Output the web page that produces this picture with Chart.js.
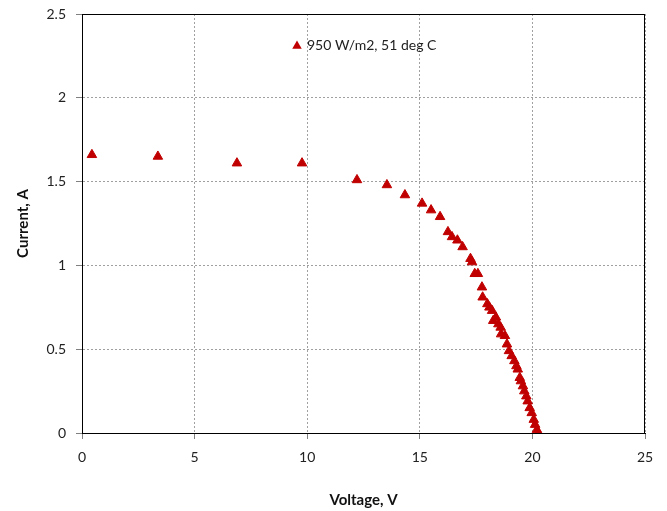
<!DOCTYPE html>
<html>
<head>
<meta charset="utf-8">
<script src="https://cdn.jsdelivr.net/npm/chart.js@4/dist/chart.umd.min.js"></script>
<style>
  html, body { margin: 0; padding: 0; background: #fff; }
  #wrap { width: 667px; height: 511px; }
</style>
</head>
<body>
<div id="wrap"><canvas id="c" width="667" height="511"></canvas></div>
<script>
const seriesLabel = "950 W/m2, 51 deg C";
const voltage = [0.44, 3.37, 6.88, 9.77, 12.21, 13.54, 14.34, 15.10, 15.50, 15.90,
  16.25, 16.43, 16.67, 16.90, 17.25, 17.32, 17.44, 17.58, 17.76, 17.79,
  18.00, 18.09, 18.21, 18.38, 18.26, 18.49, 18.59, 18.61, 18.78, 18.87,
  18.96, 19.08, 19.20, 19.29, 19.35, 19.44, 19.49, 19.58, 19.64, 19.73,
  19.79, 19.88, 19.97, 20.06, 20.12, 20.20, 20.26];
const current = [1.66, 1.65, 1.61, 1.61, 1.51, 1.48, 1.42, 1.37, 1.33, 1.29,
  1.20, 1.17, 1.15, 1.11, 1.04, 1.02, 0.95, 0.95, 0.87, 0.81,
  0.77, 0.75, 0.73, 0.69, 0.67, 0.65, 0.63, 0.59, 0.58, 0.53,
  0.49, 0.46, 0.43, 0.40, 0.38, 0.33, 0.31, 0.28, 0.25, 0.22,
  0.19, 0.15, 0.12, 0.08, 0.05, 0.02, 0.00];
const xTitle = "Voltage, V";
const yTitle = "Current, A";

const points = voltage.map((v, i) => ({ x: v, y: current[i] }));
const markerColor = '#C00000';
const fontFam = "Lato, 'Open Sans', sans-serif";

const frame = {
  id: 'frame',
  afterDraw(chart) {
    const { ctx, chartArea: a } = chart;
    ctx.save();
    ctx.strokeStyle = '#000';
    ctx.lineWidth = 1;
    ctx.strokeRect(Math.round(a.left) + 0.5, Math.round(a.top) + 0.5,
                   Math.round(a.right - a.left) - 1, Math.round(a.bottom - a.top));
    // legend
    const lx = a.left + 215, ly = a.top + 31;
    const r = 5.5;
    ctx.fillStyle = markerColor;
    ctx.beginPath();
    ctx.moveTo(lx, ly + 1 - r);
    ctx.lineTo(lx + r * Math.sin(Math.PI * 2 / 3), ly + 1 + r / 2);
    ctx.lineTo(lx - r * Math.sin(Math.PI * 2 / 3), ly + 1 + r / 2);
    ctx.closePath();
    ctx.fill();
    ctx.fillStyle = '#222';
    ctx.font = "14px " + fontFam;
    ctx.textBaseline = 'middle';
    ctx.textAlign = 'left';
    ctx.fillText(seriesLabel, lx + 10, ly);
    ctx.restore();
  }
};

new Chart(document.getElementById('c'), {
  type: 'scatter',
  data: {
    datasets: [{
      label: seriesLabel,
      data: points,
      pointStyle: 'triangle',
      pointRadius: 5.5,
      pointBackgroundColor: markerColor,
      pointBorderColor: markerColor,
      pointBorderWidth: 1,
      showLine: false
    }]
  },
  options: {
    responsive: false,
    animation: false,
    layout: { padding: { left: 0, right: 22, top: 14, bottom: 0 } },
    plugins: { legend: { display: false }, tooltip: { enabled: false } },
    scales: {
      x: {
        type: 'linear', min: 0, max: 25,
        ticks: { stepSize: 5, color: '#222', font: { family: fontFam, size: 14 }, padding: 10,
                 callback: v => String(Number(v)) },
        grid: { color: '#a0a0a0', lineWidth: 1, tickLength: 6, tickColor: '#808080', tickBorderDash: [] },
        border: { display: true, color: '#000', width: 1, dash: [2, 2] },
        title: { display: true, text: xTitle, color: '#111', font: { family: fontFam, size: 15, weight: 'bold' }, padding: { top: 4, bottom: 2 } },
        afterFit(s) { s.height = 78; s.paddingLeft = 0; s.paddingRight = 0; }
      },
      y: {
        type: 'linear', min: 0, max: 2.5,
        ticks: { stepSize: 0.5, color: '#222', font: { family: fontFam, size: 14 }, padding: 10,
                 callback: v => String(Number(v.toFixed(2))) },
        grid: { color: '#a0a0a0', lineWidth: 1, tickLength: 6, tickColor: '#808080', tickBorderDash: [] },
        border: { display: true, color: '#000', width: 1, dash: [2, 2] },
        title: { display: true, text: yTitle, color: '#111', font: { family: fontFam, size: 15, weight: 'bold' }, padding: { top: 14, bottom: 4 } },
        afterFit(s) { s.width = 82; s.paddingTop = 0; s.paddingBottom = 0; }
      }
    }
  },
  plugins: [frame]
});
</script>
</body>
</html>
